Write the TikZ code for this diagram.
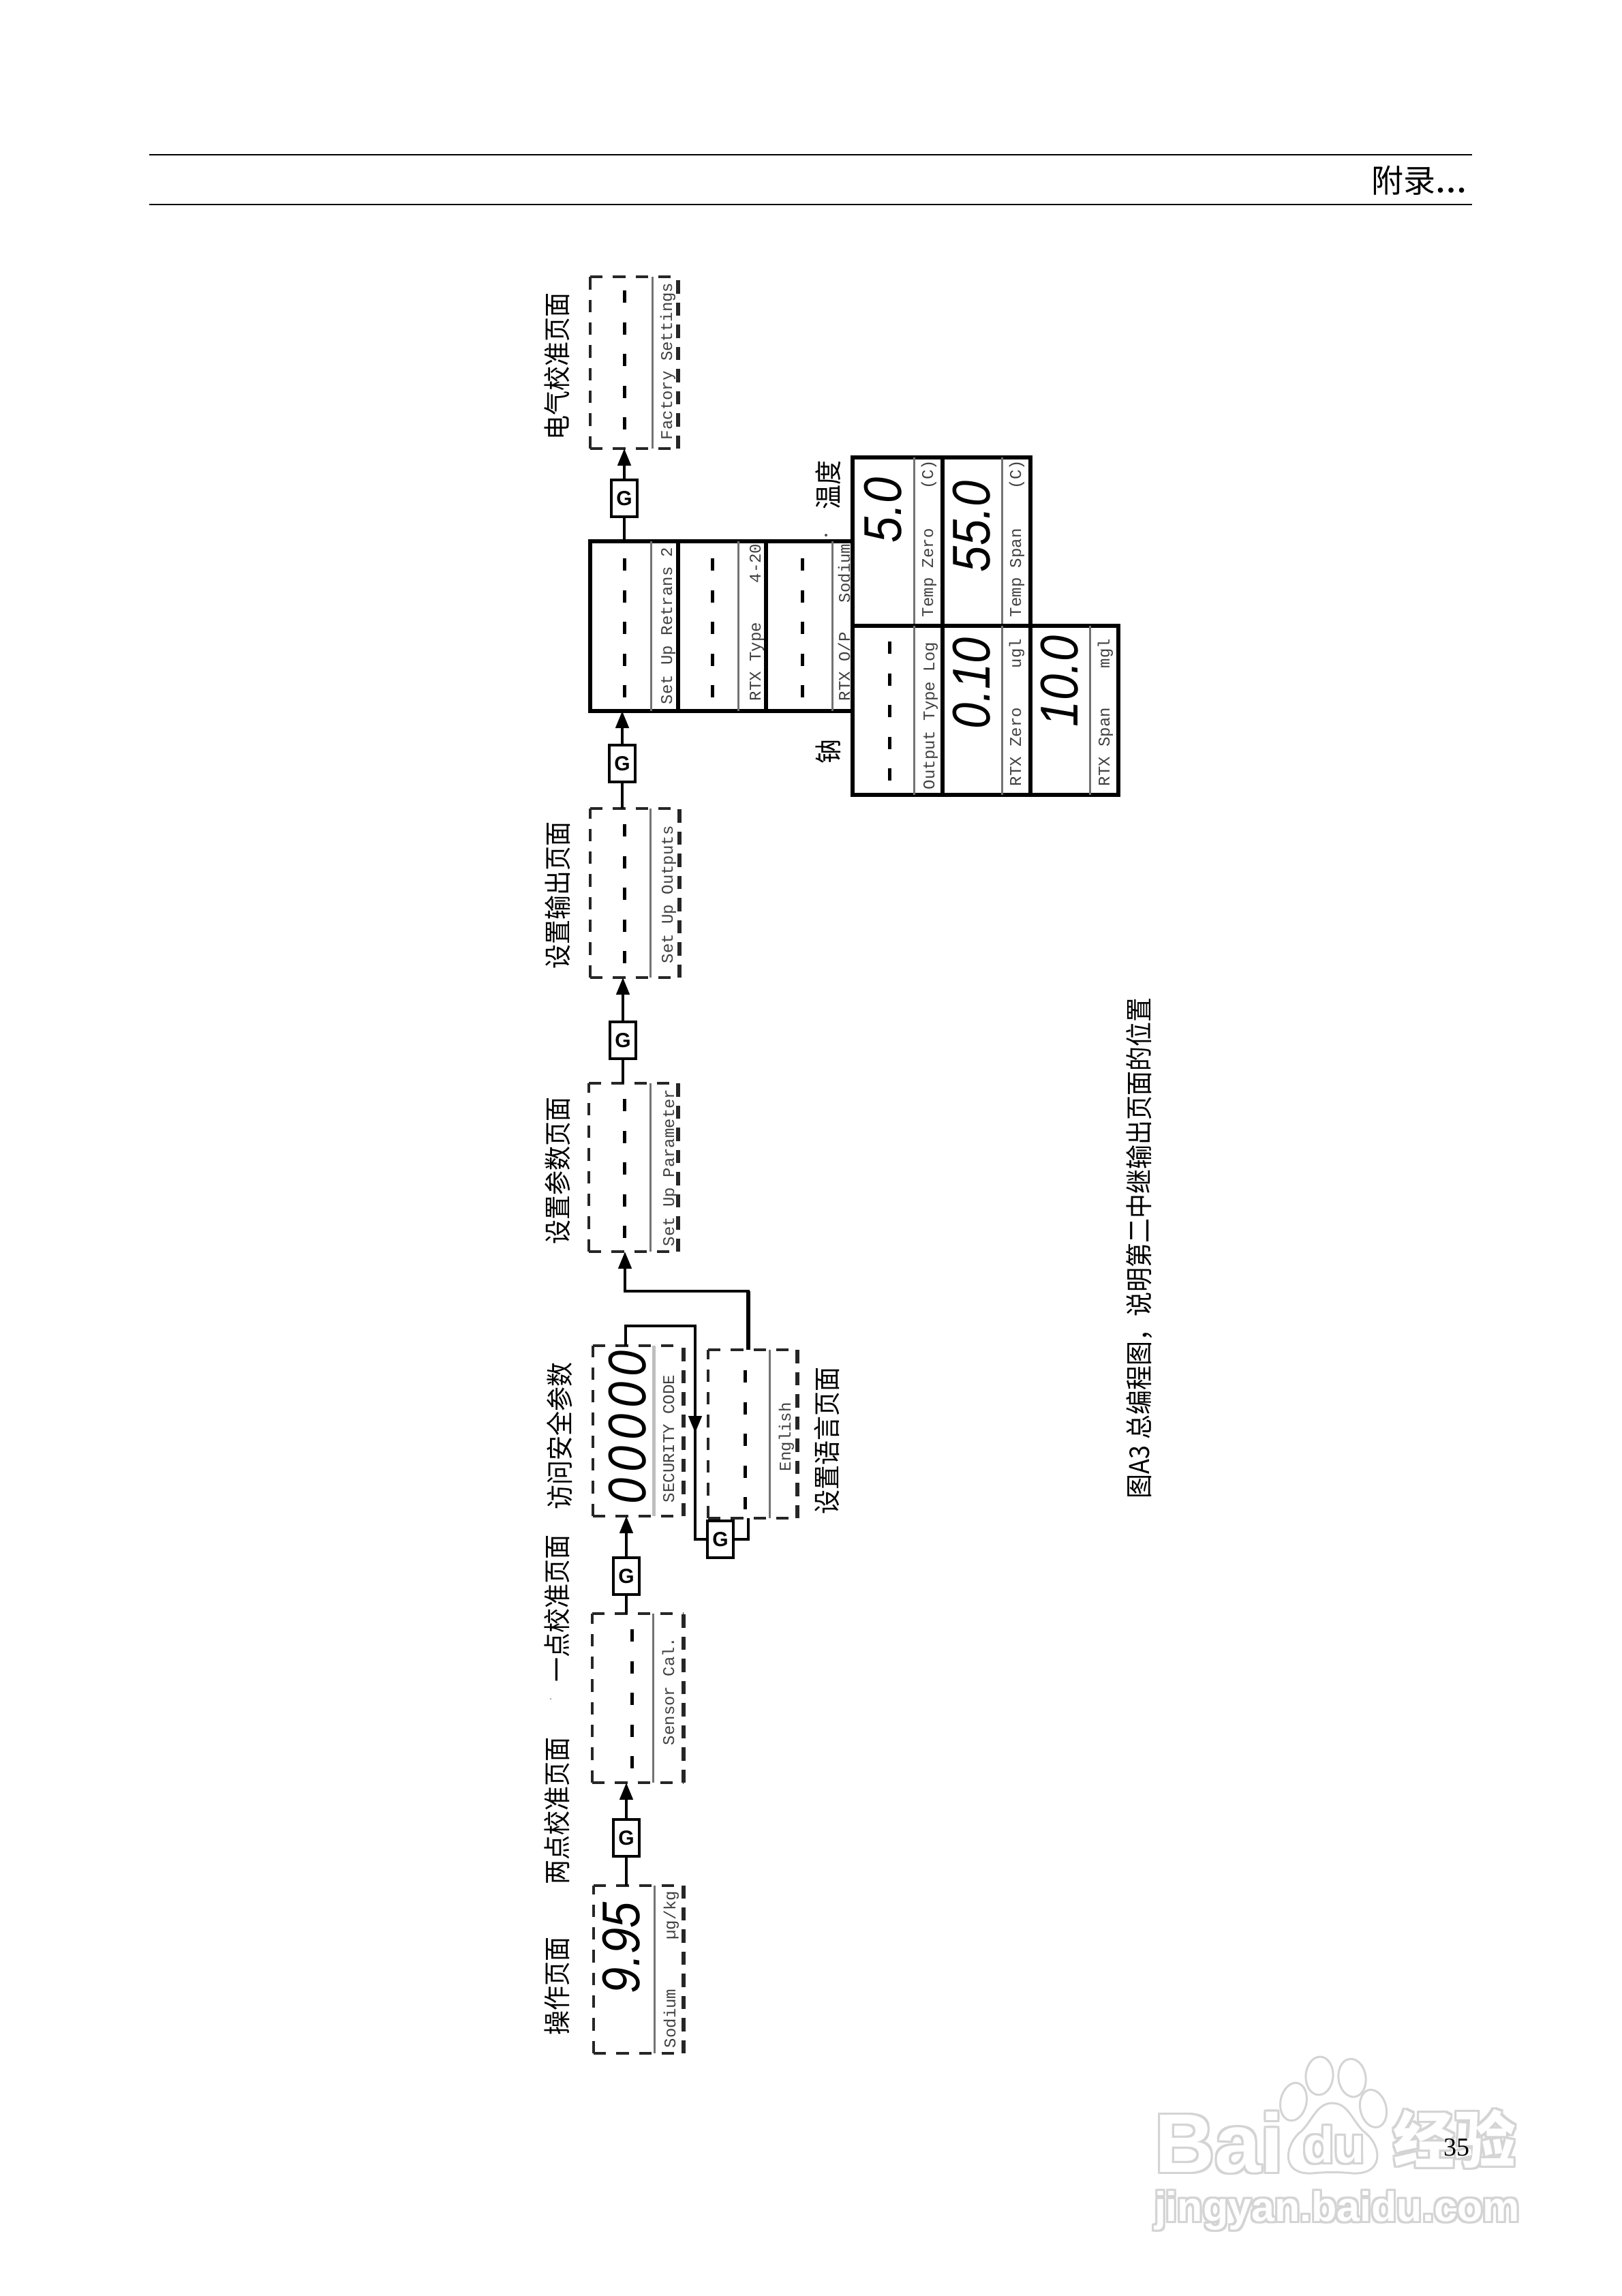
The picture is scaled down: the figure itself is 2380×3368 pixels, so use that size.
\documentclass[tikz,border=0pt]{standalone}
\usepackage{fontspec}
\usetikzlibrary{arrows.meta,calc}
\setmainfont{Liberation Serif}
\newfontfamily\cjk[FakeStretch=0.9]{Noto Sans CJK SC}
\newfontfamily\cjkwide{Noto Sans CJK SC}
\newfontfamily\mono{Liberation Mono}
\newfontfamily\seg{Liberation Sans}
\newfontfamily\lcdfont[FakeStretch=0.88]{Liberation Sans}
\newcommand{\fs}[1]{\pgfmathsetlengthmacro\fsz{#1*0.24pt}\fontsize{\fsz}{\fsz}\selectfont}
\tikzset{
  conn/.style={line width=4.2*0.24pt,black},
  arr/.style={conn,-{Triangle[length=6pt,width=4.6pt]},shorten >=0pt},
  gbox/.style={draw=black,line width=4.5*0.24pt,fill=white,inner sep=0pt,outer sep=0pt,
     minimum width=38*0.24pt,minimum height=54*0.24pt,font=\seg\bfseries\fs{30}},
  frame/.style={inner sep=0pt,outer sep=0pt},
  solidframe/.style={frame,draw=black,line width=5.5*0.24pt},
  inner rule/.style={draw=black!55,line width=3*0.24pt},
  dashside/.style={black!85,line width=4.2*0.24pt,dash pattern=on 4.4pt off 3.6pt},
  dashheavy/.style={black!85,line width=6*0.24pt,dash pattern=on 4.6pt off 3.2pt},
  readout/.style={black,line width=5*0.24pt,dash pattern=on 4.32pt off 6.84pt},
  lcd/.style={rotate=90,anchor=base west,inner sep=0pt,outer sep=0pt,font=\lcdfont\itshape\fs{78}},
  tag/.style={rotate=90,anchor=base west,inner sep=0pt,outer sep=0pt,text=black!75,font=\mono\fs{24}},
  cn/.style={rotate=90,anchor=center,inner sep=0pt,outer sep=0pt,text=black,font=\cjk\fs{40}},
  wm/.style={anchor=base west,inner sep=0pt,outer sep=0pt},
  wmline/.style={draw=black!17,line width=3*0.24pt},
}
% dashed page frame: name, x0, y0, x1, y1, inner rule x
\newcommand{\pageframe}[6]{%
  \node[frame,minimum width={(#4-#2)*0.24pt},minimum height={(#5-#3)*0.24pt}] (#1) at ({(#2+#4)/2},{(#3+#5)/2}) {};
  \draw[dashside] (#1.south west) -- (#1.north west);
  \draw[dashside] (#1.north west) -- (#1.north east);
  \draw[dashside] (#1.south west) -- (#1.south east);
  \draw[dashheavy] (#1.south east) -- (#1.north east);
  \draw[inner rule] (#6,#3) -- (#6,#5);
}
% solid panel
\newcommand{\panel}[6]{%
  \node[solidframe,minimum width={(#4-#2)*0.24pt},minimum height={(#5-#3)*0.24pt}] (#1) at ({(#2+#4)/2},{(#3+#5)/2}) {};
  \draw[inner rule] (#6,#3) -- (#6,#5);
}
% five read-out dashes
\newcommand{\dashrow}[2]{\draw[readout] (#1,#2) -- (#1,#2+204);}
% outlined watermark text: name,x,y,size,font,text
\newcommand{\wmtext}[6]{%
  \foreach \dx/\dy [count=\k] in {-3/-3,0/-3,3/-3,-3/0,3/0,-3/3,0/3,3/3}{%
    \node[wm,text=black!17,font={#5\fs{#4}}] (#1\k) at (#2+\dx,#3+\dy) {#6};
  }%
  \node[wm,text=white,font={#5\fs{#4}}] (#1) at (#2,#3) {#6};
}
\begin{document}
\begin{tikzpicture}[x=0.24pt,y=-0.24pt]
\fill[white] (0,0) rectangle (2380,3368);
\useasboundingbox (0,0) rectangle (2380,3368);

% ---------- header
\coordinate (hl1) at (219,227); \coordinate (hr1) at (2160,227);
\coordinate (hl2) at (219,300); \coordinate (hr2) at (2160,300);
\draw[black,line width=2.4*0.24pt] (hl1) -- (hr1);
\draw[black,line width=2.4*0.24pt] (hl2) -- (hr2);
\node[anchor=base west,inner sep=0pt] (htitle) at (2012,282) {\cjkwide\fs{47}附录\bfseries\rmfamily\fs{46}…};

% ---------- watermark
\wmtext{wa}{1694}{3186}{122}{\seg\bfseries}{Bai}
\wmtext{wb}{2044}{3172}{90}{\cjkwide\bfseries}{经验}
\wmtext{wc}{1694}{3258}{61}{\seg\bfseries}{jingyan.baidu.com}
\draw[wmline,rotate around={-12:(1898,3083)}] (1898,3083) ellipse [x radius=19,y radius=28];
\draw[wmline,rotate around={-4:(1936,3045)}] (1936,3045) ellipse [x radius=20,y radius=28];
\draw[wmline,rotate around={8:(1984,3048)}] (1984,3048) ellipse [x radius=20,y radius=28];
\draw[wmline,rotate around={14:(2015,3093)}] (2015,3093) ellipse [x radius=19,y radius=28];
\draw[wmline] (1955,3085) .. controls (1930,3085) and (1925,3115) .. (1905,3130)
   .. controls (1885,3150) and (1880,3190) .. (1925,3188)
   .. controls (1945,3186) and (1965,3186) .. (1985,3188)
   .. controls (2030,3190) and (2028,3150) .. (2005,3130)
   .. controls (1985,3115) and (1980,3085) .. (1955,3085) -- cycle;
\wmtext{wd}{1912}{3172}{74}{\seg\bfseries}{du}

\node[anchor=base west,inner sep=0pt] (pageno) at (2118,3162) {\rmfamily\fs{38}35};

% ---------- Chinese captions
\node[cn] (c1) at (817,537) {电气校准页面};
\node[cn] (c2) at (818,1313) {设置输出页面};
\node[cn] (c3) at (818,1717) {设置参数页面};
\node[cn] (c4) at (821,2106) {访问安全参数};
\node[cn] (c5) at (817,2359) {一点校准页面};
\node[cn] (c6) at (817,2656) {两点校准页面};
\node[cn] (c7) at (817,2913) {操作页面};
\node[cn] (c8) at (1213,2113) {设置语言页面};
\node[cn] (c9) at (1215,711) {温度};
\node[cn] (c10) at (1215,1102) {钠};
\node[cn,anchor=west] (cap1) at (1672,2198) {图A3};
\node[cn,anchor=west] (cap2) at (1672,2111) {总编程图，说明第二中继输出页面的位置};

% ---------- dashed pages
\pageframe{sodium}{871}{2766}{1003}{3012}{960}
\pageframe{sensor}{869}{2367}{1003}{2615}{958}
\pageframe{security}{870}{1974}{1003}{2224}{959}
\pageframe{english}{1039}{1980}{1170}{2227}{1129}
\pageframe{param}{864}{1589}{995}{1836}{954}
\pageframe{outputs}{866}{1186}{997}{1434}{954}
\pageframe{factory}{866}{406}{995}{658}{957}
\draw[black!25,line width=5*0.24pt] (959,1974) -- (959,2224);

% ---------- solid panels
\panel{retrans}{866}{794}{995}{1043}{955}
\panel{rtxtype}{995}{794}{1124}{1043}{1083}
\panel{rtxop}{1124}{794}{1251}{1043}{1221}
\panel{tempzero}{1251}{671}{1383}{918}{1341}
\panel{tempspan}{1383}{671}{1512}{918}{1470}
\panel{outtype}{1251}{918}{1383}{1166}{1341}
\panel{rtxzero}{1383}{918}{1512}{1166}{1470}
\panel{rtxspan}{1512}{918}{1641}{1166}{1599}

% ---------- read-out dashes
\dashrow{916}{426}
\dashrow{916}{1209}
\dashrow{916}{1612}
\dashrow{927}{2390}
\dashrow{1093}{2010}
\dashrow{916}{819}
\dashrow{1045}{819}
\dashrow{1177}{819}
\dashrow{1305}{941}

% ---------- read-out values
\node[lcd] (v1) at (938,2924) {9.95};
\node[lcd,font=\lcdfont\itshape\fs{78}\addfontfeature{LetterSpace=11}] (v2) at (947,2206) {00000};
\node[lcd] (v3) at (1322,796) {5.0};
\node[lcd] (v4) at (1452,839) {55.0};
\node[lcd] (v5) at (1452,1069) {0.10};
\node[lcd] (v6) at (1581,1066) {10.0};

% ---------- small tags
\node[tag] (t1) at (991,3004) {Sodium~~~~~µg/kg};
\node[tag] (t2) at (989,2560) {Sensor~Cal.};
\node[tag] (t3) at (989,2204) {SECURITY~CODE};
\node[tag] (t4) at (1160,2158) {English};
\node[tag] (t5) at (989,1828) {Set~Up~Parameter};
\node[tag] (t6) at (987,1413) {Set~Up~Outputs};
\node[tag] (t7) at (986,645) {Factory~Settings};
\node[tag] (t8) at (986,1033) {Set~Up~Retrans~2};
\node[tag] (t9) at (1116,1028) {RTX~Type~~~~4-20};
\node[tag] (t10) at (1247,1028) {RTX~O/P~~~Sodium};
\node[tag] (t11) at (1369,905) {Temp~Zero~~~~(C)};
\node[tag] (t12) at (1498,905) {Temp~Span~~~~(C)};
\node[tag] (t13) at (1371,1158) {Output~Type~Log};
\node[tag] (t14) at (1498,1153) {RTX~Zero~~~~ugl};
\node[tag] (t15) at (1628,1153) {RTX~Span~~~~mgl};

% ---------- G keys
\node[gbox] (g1) at (919,2696) {G};
\node[gbox] (g2) at (919,2312) {G};
\node[gbox] (g3) at (914,1526) {G};
\node[gbox] (g4) at (913,1120) {G};
\node[gbox] (g5) at (916,731) {G};
\node[gbox] (g6) at (1057,2258) {G};

% ---------- connectors
\draw[conn] (g1.south |- sodium.north) -- (g1.south);
\draw[arr] (g1.north) -- (g1.north |- sensor.south);
\draw[conn] (g2.south |- sensor.north) -- (g2.south);
\draw[arr] (g2.north) -- (g2.north |- security.south);
\draw[conn] (g3.south |- param.north) -- (g3.south);
\draw[arr] (g3.north) -- (g3.north |- outputs.south);
\draw[conn] (g4.south |- outputs.north) -- (g4.south);
\draw[arr] (g4.north) -- (g4.north |- retrans.south);
\draw[conn] (g5.south |- retrans.north) -- (g5.south);
\draw[arr] (g5.north) -- (g5.north |- factory.south);

\coordinate (sectop) at (918,1974);
\coordinate (loopcorner) at (1020,1945);
\coordinate (looparrow) at (1020,2102);
\draw[conn] (sectop) |- (loopcorner) |- (g6.west);
\draw[arr] (loopcorner) -- (looparrow);

\coordinate (engbottom) at (1098,2227);
\coordinate (engtop) at (1098,1980);
\coordinate (feedcorner) at (917,1894);
\draw[conn] (g6.east) -| (engbottom);
\draw[conn,line width=6*0.24pt] (engtop) -- (1098,1894);
\draw[arr] (engtop) |- (feedcorner) -- (feedcorner |- param.south);

% ---------- specks of the scan
\coordinate (speck1) at (1212,785);
\coordinate (speck2) at (808,2492);
\fill[black!70] (speck1) circle [radius=2];
\fill[black!30] (speck2) circle [radius=1.5];
\end{tikzpicture}
\end{document}
